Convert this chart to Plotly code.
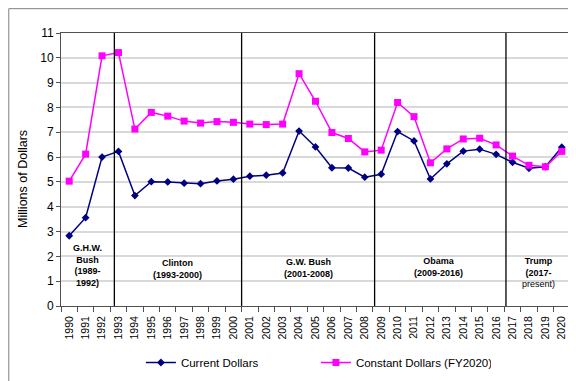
import plotly.graph_objects as go

years = list(range(1990, 2021))
current_dollars = [2.83, 3.56, 6.00, 6.23, 4.45, 5.01, 5.00, 4.95, 4.93, 5.04,
                   5.11, 5.23, 5.27, 5.36, 7.05, 6.41, 5.57, 5.56, 5.19, 5.31,
                   7.03, 6.65, 5.12, 5.73, 6.24, 6.32, 6.11, 5.79, 5.55, 5.61, 6.40]
constant_dollars = [5.03, 6.12, 10.08, 10.21, 7.13, 7.80, 7.65, 7.45, 7.37, 7.43,
                    7.40, 7.33, 7.31, 7.33, 9.36, 8.25, 6.99, 6.75, 6.21, 6.28,
                    8.20, 7.63, 5.77, 6.33, 6.73, 6.76, 6.49, 6.04, 5.67, 5.61, 6.23]
term_dividers = [1992.75, 2000.5, 2008.6, 2016.6]
term_labels = ["<b>G.H.W.<br>Bush<br>(1989-<br>1992)</b>",
               "<b>Clinton<br>(1993-2000)</b>",
               "<b>G.W. Bush<br>(2001-2008)</b>",
               "<b>Obama<br>(2009-2016)</b>",
               "<b>Trump<br>(2017-</b><br>present)"]
term_label_x = [1991.1, 1996.6, 2004.6, 2012.5, 2018.6]
term_label_y = [1.64, 1.5, 1.52, 1.58, 1.34]

FONT = "Liberation Sans, Arial, sans-serif"

fig = go.Figure()
fig.add_trace(go.Scatter(
    x=years, y=current_dollars, name="Current Dollars", mode="lines+markers",
    line=dict(color="#000080", width=1.5),
    marker=dict(symbol="diamond", size=6, color="#000080")))
fig.add_trace(go.Scatter(
    x=years, y=constant_dollars, name="Constant Dollars (FY2020)", mode="lines+markers",
    line=dict(color="#FF00FF", width=1.5),
    marker=dict(symbol="square", size=7, color="#FF00FF")))

for xd in term_dividers:
    fig.add_shape(type="line", xref="x", yref="paper", x0=xd, x1=xd, y0=0, y1=1,
                  line=dict(color="black", width=1.3))

for t, xx, yy in zip(term_labels, term_label_x, term_label_y):
    fig.add_annotation(x=xx, y=yy, xref="x", yref="y", text=t, showarrow=False,
                       font=dict(family=FONT, size=9, color="black"),
                       xanchor="center", yanchor="middle", align="center")

# y-axis title
fig.add_annotation(x=-0.075, y=0.465, xref="paper", yref="paper",
                   text="Millions of Dollars", textangle=-90, showarrow=False,
                   font=dict(family=FONT, size=12.5, color="black"),
                   xanchor="center", yanchor="middle")

# outer chart border
fig.add_shape(type="rect", xref="paper", yref="paper",
              x0=(0.5 - 52.7) / 508.9, x1=(568 - 52.7) / 508.9,
              y0=(300 - 379.5) / 275, y1=(300 - 0.5) / 275,
              line=dict(color="#808080", width=1), layer="below")

minor_ticks = [y - 0.5 for y in years] + [years[-1] + 0.5]

fig.update_layout(
    width=576, height=381,
    margin=dict(l=52.7, r=14.4, t=25, b=81),
    paper_bgcolor="white", plot_bgcolor="white",
    font=dict(family=FONT, color="black"),
    showlegend=True,
    legend=dict(orientation="h", x=0.157, y=-0.207, xanchor="left", yanchor="middle",
                font=dict(family=FONT, size=11.5, color="black"),
                entrywidth=130, entrywidthmode="pixels",
                bgcolor="rgba(0,0,0,0)"),
    xaxis=dict(range=[1989.5, 2020.5], tickmode="array", tickvals=years,
               ticktext=[str(y) for y in years], tickangle=-90,
               tickfont=dict(family=FONT, size=10.5, color="black"),
               ticks="outside", ticklen=5, tickcolor="rgba(0,0,0,0)",
               showgrid=False, zeroline=False,
               showline=True, linecolor="#505050", linewidth=1, mirror=True,
               minor=dict(tickmode="array", tickvals=minor_ticks, ticks="outside",
                          ticklen=5, tickcolor="#505050", showgrid=False)),
    yaxis=dict(range=[0, 11], tickmode="linear", tick0=0, dtick=1,
               tickfont=dict(family=FONT, size=12, color="black"),
               ticks="outside", ticklen=4, tickcolor="#505050",
               showgrid=True, gridcolor="#d9d9d9", gridwidth=1.5,
               zeroline=False,
               showline=True, linecolor="#505050", linewidth=1, mirror=True),
)

fig.write_html("out.html")
